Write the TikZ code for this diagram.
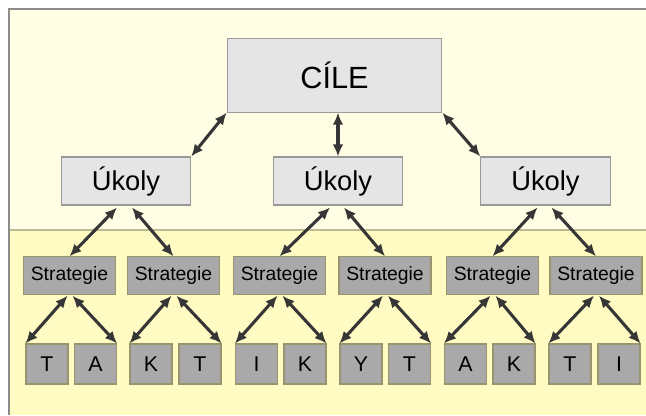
\documentclass[tikz,border=0pt]{standalone}
\usepackage{fontspec}
\setmainfont{Liberation Sans}
\usepackage{tikz}
\usetikzlibrary{arrows.meta,calc}
\definecolor{bgtop}{HTML}{FFFDE3}
\definecolor{bgbot}{HTML}{FFFBC3}
\definecolor{lightbox}{HTML}{E5E5E5}
\definecolor{darkbox}{HTML}{A9A9A9}
\definecolor{arrowgray}{HTML}{363636}
\tikzstyle{goal} = [rectangle, draw = gray!80, fill = lightbox, line width = 0.8pt, minimum width = 161pt, minimum height = 55pt, font = \fontsize{23}{25}\selectfont]
\tikzstyle{task} = [rectangle, draw = gray!80, fill = lightbox, line width = 0.8pt, minimum width = 97pt, minimum height = 36pt, font = \fontsize{20.5}{22}\selectfont]
\tikzstyle{strat} = [rectangle, draw = black!55!olive!60, fill = darkbox, line width = 0.8pt, minimum width = 69pt, minimum height = 28pt, inner sep = 1pt, font = \fontsize{14.5}{16}\selectfont]
\tikzstyle{letter} = [rectangle, draw = black!55!olive!60, fill = darkbox, line width = 0.8pt, minimum width = 31.5pt, minimum height = 30pt, font = \fontsize{16}{18}\selectfont]
\tikzstyle{arrow} = [{Latex[length=9pt,width=8pt]}-{Latex[length=9pt,width=8pt]}, draw = arrowgray, line width = 2.3pt]

\begin{document}
\begin{tikzpicture}[x = 0.75pt, y = -0.75pt]
			\useasboundingbox (0,0) rectangle (646,415);

			%--Background--%
			\fill[white] (0,0) rectangle (646,415);
			\fill[bgtop] (9,9) rectangle (646,230);
			\fill[bgbot] (9,230) rectangle (646,415);
			\draw[black!20!bgbot!80!gray, line width = 0.8pt] (9,230) -- (646,230);
			\draw[gray!90, line width = 1pt] (9,415) -- (9,9) -- (646,9);

			%--Goal--%
			\node(goal)[goal] at (334.5,75.5) {CÍLE};

			%--Tasks--%
			\node(task1)[task] at (126,181) {Úkoly};
			\node(task2)[task] at (338,181) {Úkoly};
			\node(task3)[task] at (545.5,181) {Úkoly};

			%--Strategies--%
			\node(str1)[strat] at (69.5,275.5) {Strategie};
			\node(str2)[strat] at (173.5,275.5) {Strategie};
			\node(str3)[strat] at (279.5,275.5) {Strategie};
			\node(str4)[strat] at (385,275.5) {Strategie};
			\node(str5)[strat] at (492.5,275.5) {Strategie};
			\node(str6)[strat] at (596,275.5) {Strategie};

			%--Letters--%
			\node(l1)[letter] at (47,364) {T};
			\node(l2)[letter] at (95.5,364) {A};
			\node(l3)[letter] at (151,364) {K};
			\node(l4)[letter] at (200,364) {T};
			\node(l5)[letter] at (256.5,364) {I};
			\node(l6)[letter] at (305,364) {K};
			\node(l7)[letter] at (361,364) {Y};
			\node(l8)[letter] at (409.5,364) {T};
			\node(l9)[letter] at (465.5,364) {A};
			\node(l10)[letter] at (514,364) {K};
			\node(l11)[letter] at (570,364) {T};
			\node(l12)[letter] at (619,364) {I};

			%--Goal to tasks--%
			\draw[arrow] (goal.south west) -- (task1.north east);
			\draw[arrow] (goal.south -| task2.north) -- (task2.north);
			\draw[arrow] (goal.south east) -- (task3.north west);

			%--Tasks to strategies--%
			\draw[arrow] ($(task1.south)+(-9,2)$) -- (str1.north);
			\draw[arrow] ($(task1.south)+(6,2)$) -- (str2.north);
			\draw[arrow] ($(task2.south)+(-8,2)$) -- (str3.north);
			\draw[arrow] ($(task2.south)+(6,2)$) -- (str4.north);
			\draw[arrow] ($(task3.south)+(-8,2)$) -- (str5.north);
			\draw[arrow] ($(task3.south)+(6,2)$) -- (str6.north);

			%--Strategies to letters--%
			\draw[arrow] ($(str1.south)+(-2,1)$) -- (l1.north west);
			\draw[arrow] ($(str1.south)+(3,1)$) -- (l2.north east);
			\draw[arrow] ($(str2.south)+(-2,1)$) -- (l3.north west);
			\draw[arrow] ($(str2.south)+(3,1)$) -- (l4.north east);
			\draw[arrow] ($(str3.south)+(-2,1)$) -- (l5.north west);
			\draw[arrow] ($(str3.south)+(3,1)$) -- (l6.north east);
			\draw[arrow] ($(str4.south)+(-2,1)$) -- (l7.north west);
			\draw[arrow] ($(str4.south)+(3,1)$) -- (l8.north east);
			\draw[arrow] ($(str5.south)+(-2,1)$) -- (l9.north west);
			\draw[arrow] ($(str5.south)+(3,1)$) -- (l10.north east);
			\draw[arrow] ($(str6.south)+(-2,1)$) -- (l11.north west);
			\draw[arrow] ($(str6.south)+(3,1)$) -- (l12.north east);
		\end{tikzpicture}
\end{document}
